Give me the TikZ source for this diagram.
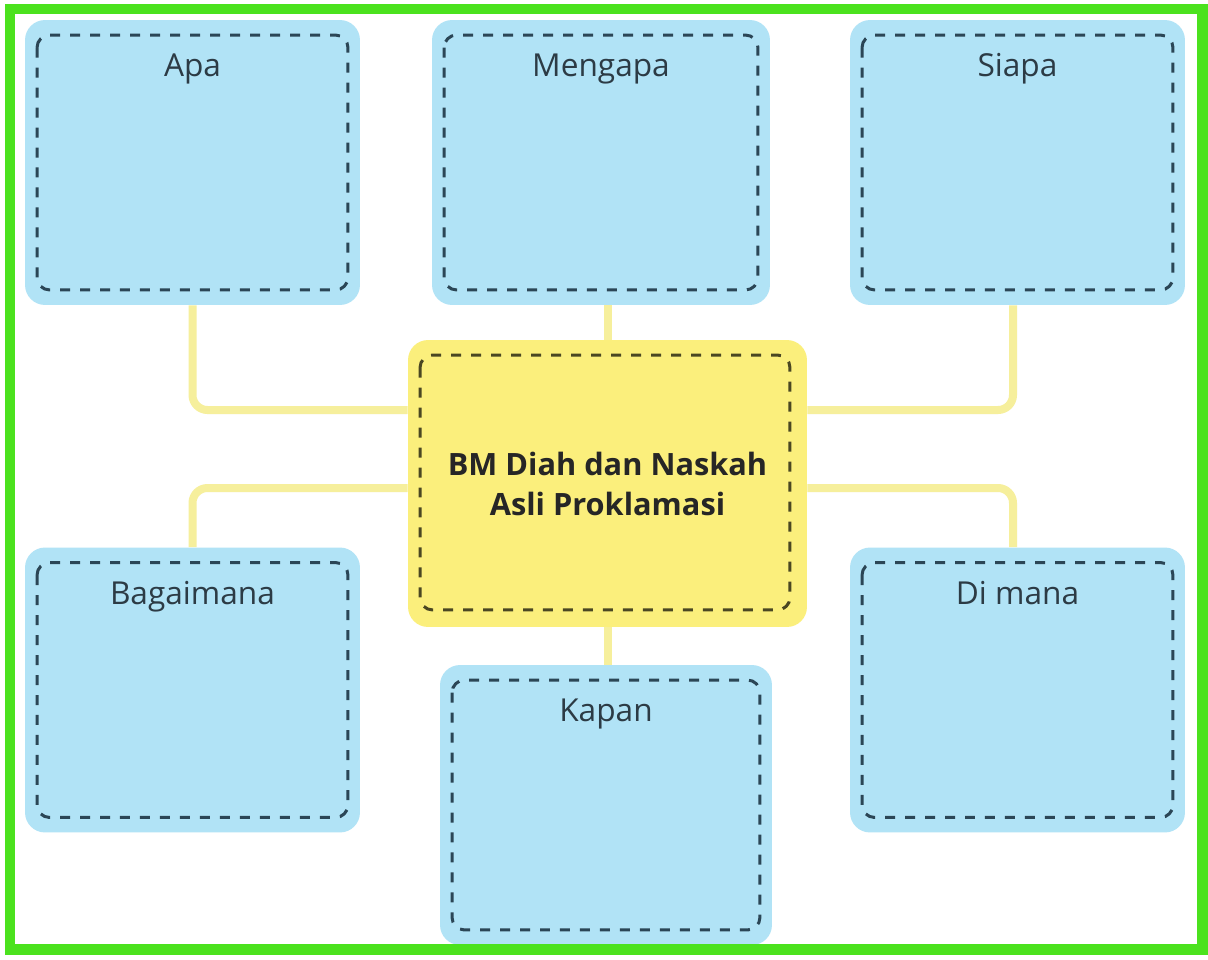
\documentclass[tikz,border=0pt]{standalone}
\usepackage{fontspec}
\setmainfont{Open Sans}

\definecolor{boxblue}{HTML}{B1E3F6}
\definecolor{hubyellow}{HTML}{FBEF7C}
\definecolor{linkyellow}{HTML}{F6EF9C}
\definecolor{framegreen}{HTML}{4BE21E}
\definecolor{dashblue}{HTML}{2B4656}
\definecolor{dasholive}{HTML}{4A4722}
\definecolor{textdark}{HTML}{2C3B45}

\tikzset{
  dashline/.style={line width=0.06cm, dash pattern=on 0.2cm off 0.2cm, rounded corners=0.25cm},
  qbox/.style={fill=boxblue, rounded corners=0.4cm, inner sep=0pt,
    minimum width=6.7cm, minimum height=5.7cm,
    path picture={\draw[dashline, dashblue]
      ([xshift=0.24cm,yshift=-0.3cm]path picture bounding box.north west) rectangle
      ([xshift=-0.24cm,yshift=0.3cm]path picture bounding box.south east);}},
  qlabel/.style={anchor=base, yshift=-1.14cm, font=\fontsize{18}{21}\selectfont, text=textdark},
  hub/.style={fill=hubyellow, rounded corners=0.4cm, inner sep=0pt,
    minimum width=7.98cm, minimum height=5.74cm, align=center, text=black!85,
    font=\bfseries\fontsize{17.5}{22.8}\selectfont,
    path picture={\draw[dashline, dasholive]
      ([xshift=0.24cm,yshift=-0.3cm]path picture bounding box.north west) rectangle
      ([xshift=-0.34cm,yshift=0.34cm]path picture bounding box.south east);}},
  link/.style={linkyellow, line width=0.16cm, rounded corners=0.3cm}
}

\begin{document}
\begin{tikzpicture}[x=0.02cm, y=-0.02cm]
  \useasboundingbox[fill=white] (0,0) rectangle (1208,960);

  % question boxes
  \node[qbox, label={[qlabel]north:Apa}] (apa) at (192.5,162.5) {};
  \node[qbox, minimum width=6.76cm, label={[qlabel]north:Mengapa}] (mengapa) at (601,162.5) {};
  \node[qbox, label={[qlabel]north:Siapa}] (siapa) at (1017.5,162.5) {};
  \node[qbox, label={[qlabel]north:Bagaimana}] (bagaimana) at (192.5,690) {};
  \node[qbox, label={[qlabel]north:Di mana}] (dimana) at (1017.5,690) {};
  \node[qbox, minimum width=6.64cm, minimum height=5.6cm, label={[qlabel]north:Kapan}] (kapan) at (606,805) {};

  % topic in the middle
  \node[hub] (topic) at (607.5,483.5) {BM Diah dan Naskah\\Asli Proklamasi};

  % links
  \draw[link] (apa.south) |- ([yshift=1.47cm]topic.west);
  \draw[link] (bagaimana.north) |- ([yshift=-0.09cm]topic.west);
  \draw[link] (siapa.south -| 1013,0) |- ([yshift=1.47cm]topic.east);
  \draw[link] (dimana.north -| 1013,0) |- ([yshift=-0.09cm]topic.east);
  \draw[link] (mengapa.south -| topic.north) -- (topic.north);
  \draw[link] (topic.south) -- (topic.south |- kapan.north);

  % frame
  \draw[framegreen, line width=0.22cm] (10,9) rectangle (1202,949);
\end{tikzpicture}
\end{document}
